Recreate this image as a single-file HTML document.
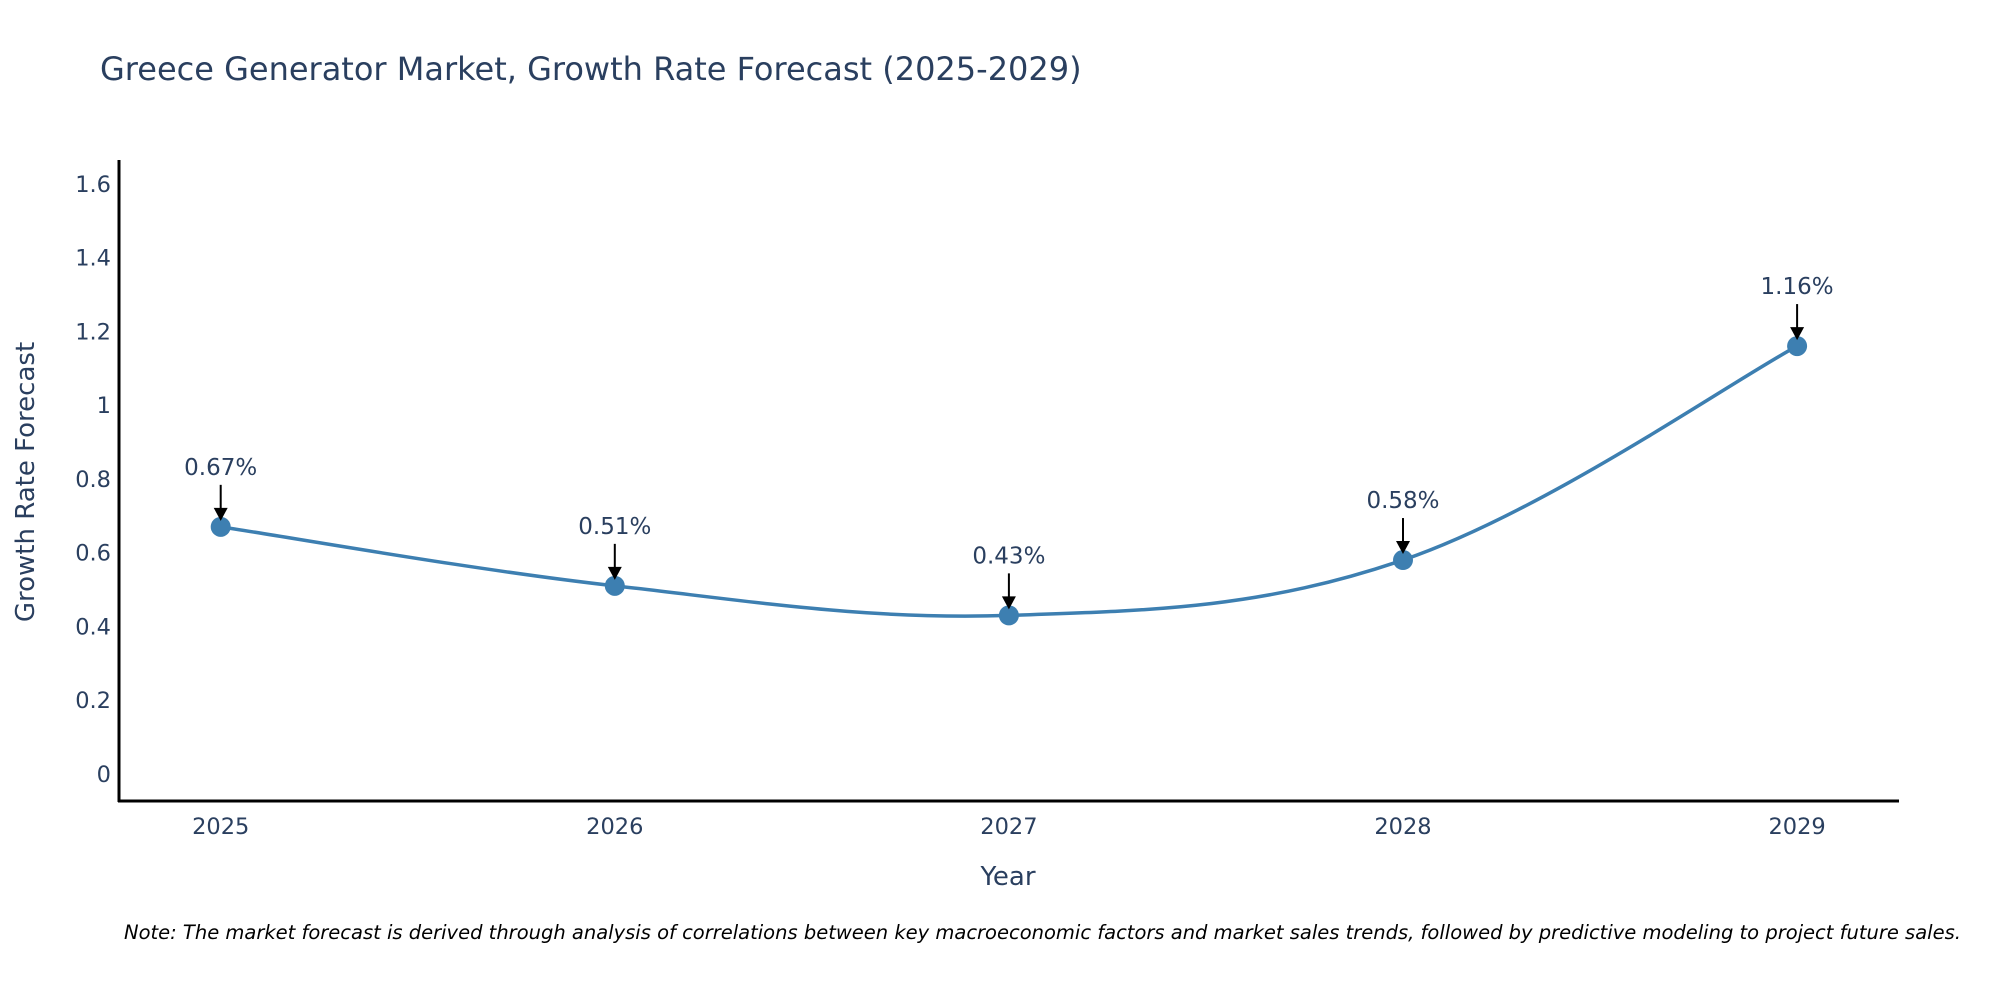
<!DOCTYPE html>
<html><head><meta charset="utf-8"><style>
body{margin:0;background:#fff}
svg text{font-family:"DejaVu Sans","Liberation Sans",sans-serif;fill:#2a3f5f}
</style></head><body>
<svg width="2000" height="1000" xmlns="http://www.w3.org/2000/svg">
<rect width="2000" height="1000" fill="#fff"/>
<text x="100" y="80" font-size="32">Greece Generator Market, Growth Rate Forecast (2025-2029)</text>
<g id="yticks"></g><g id="xticks"></g>
<line x1="119" y1="160" x2="119" y2="802" stroke="#000" stroke-width="3"/>
<line x1="118" y1="801" x2="1899" y2="801" stroke="#000" stroke-width="3"/>
<path id="line" fill="none" stroke="#3d7fb1" stroke-width="3.5"/>
<g id="marks"></g>
<text x="1008" y="885" font-size="26" text-anchor="middle">Year</text>
<text transform="translate(34,482) rotate(-90)" font-size="26" text-anchor="middle">Growth Rate Forecast</text>
<text x="124" y="939" font-size="19.5" font-style="italic" style="fill:#000">Note: The market forecast is derived through analysis of correlations between key macroeconomic factors and market sales trends, followed by predictive modeling to project future sales.</text>
</svg>
<script>
const years=[2025,2026,2027,2028,2029];
const values=[0.67,0.51,0.43,0.58,1.16];
const labels=["0.67%","0.51%","0.43%","0.58%","1.16%"];
const yTicks=[0,0.2,0.4,0.6,0.8,1,1.2,1.4,1.6];
const NS="http://www.w3.org/2000/svg";
const xs=y=>220.7+(y-2025)*394.1;
const ys=v=>774-v*368.9;
function mk(t,a,p){const e=document.createElementNS(NS,t);for(const k in a)e.setAttribute(k,a[k]);p.appendChild(e);return e;}
const yt=document.getElementById('yticks');
yTicks.forEach(v=>{const t=mk('text',{x:111,y:ys(v)+8,'font-size':22.5,'text-anchor':'end'},yt);


t.textContent=String(v);});
const xt=document.getElementById('xticks');
years.forEach(y=>{const t=mk('text',{x:xs(y),y:834,'font-size':22.5,'text-anchor':'middle'},xt);


t.textContent=String(y);});
const P=years.map((y,i)=>[xs(y),ys(values[i])]);
let d=`M${P[0][0]},${P[0][1]}`;const s=0.18;
for(let i=0;i<P.length-1;i++){const p0=P[Math.max(i-1,0)],p1=P[i],p2=P[i+1],p3=P[Math.min(i+2,P.length-1)];
const c1=[p1[0]+(p2[0]-p0[0])*s,p1[1]+(p2[1]-p0[1])*s],c2=[p2[0]-(p3[0]-p1[0])*s,p2[1]-(p3[1]-p1[1])*s];
d+=` C${c1[0]},${c1[1]} ${c2[0]},${c2[1]} ${p2[0]},${p2[1]}`;}
document.getElementById('line').setAttribute('d',d);
const g=document.getElementById('marks');
P.forEach((p,i)=>{
const c=mk('circle',{cx:p[0],cy:p[1],r:10,fill:'#3d7fb1'},g);


const l=mk('line',{x1:p[0],y1:p[1]-42,x2:p[0],y2:p[1]-18,stroke:'#000','stroke-width':2},g);


const h=mk('polygon',{points:`${p[0]-7},${p[1]-19} ${p[0]+7},${p[1]-19} ${p[0]},${p[1]-6}`,fill:'#000'},g);


const t=mk('text',{x:p[0],y:p[1]-52,'font-size':23,'text-anchor':'middle'},g);


t.textContent=labels[i];});
</script>
</body></html>
